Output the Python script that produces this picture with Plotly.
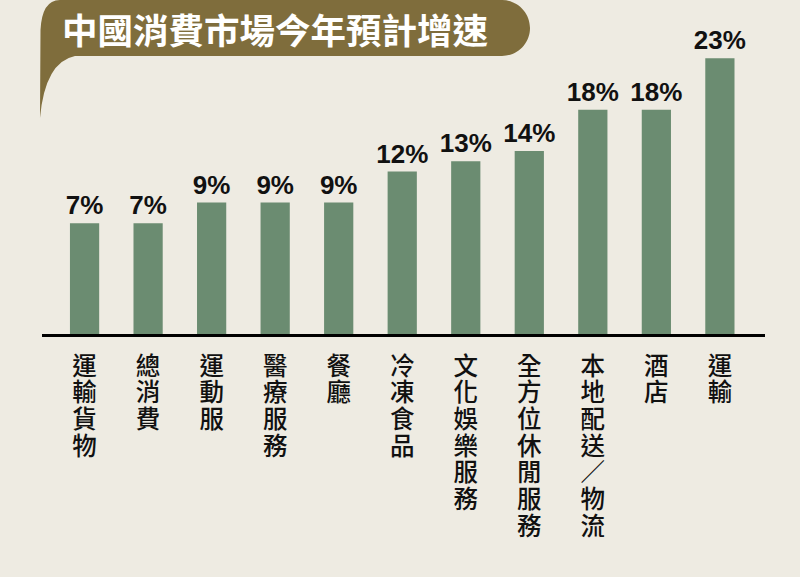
import plotly.graph_objects as go

categories = ["運輸貨物", "總消費", "運動服", "醫療服務", "餐廳", "冷凍食品",
              "文化娛樂服務", "全方位休閒服務", "本地配送／物流", "酒店", "運輸"]
values = [7, 7, 9, 9, 9, 12, 13, 14, 18, 18, 23]
title_text = "中國消費市場今年預計增速"

BASE = -3.75
W, H = 800, 577
ML, MR, MT, MB = 42, 35, 50, 243
PW, PH = W - ML - MR, H - MT - MB

def px(x):
    return (x - ML) / PW

def py(y):
    return (H - MB - y) / PH

BG = "#eeebe2"
BAR = "#6b8c71"
BANNER = "#7f6d3c"

fig = go.Figure()
fig.add_trace(go.Bar(
    x=list(range(len(categories))),
    y=[v - BASE for v in values],
    base=BASE,
    width=0.46,
    marker=dict(color=BAR, line=dict(width=0)),
    text=[f"<b>{v}%</b>" for v in values],
    textposition="outside",
    constraintext="none",
    textfont=dict(family="Liberation Sans", size=26, color="#111111"),
    cliponaxis=False,
    hoverinfo="skip",
))

tick_text = ["<br>".join(f'<span style="font-size:24.5px">{ch}</span>' for ch in c)
             for c in categories]

# banner path (pixel coords converted to paper)
pts = [
    ("M", [(40, 118)]),
    ("L", [(40.5, 30)]),
    ("Q", [(42, 0), (60, 0)]),
    ("L", [(502, 0)]),
    ("C", [(517.5, 0), (530, 12.5), (530, 28)]),
    ("C", [(530, 43.5), (517.5, 56), (502, 56)]),
    ("L", [(75, 56)]),
    ("Q", [(45, 62), (40, 118)]),
]
path = ""
for cmd, ps in pts:
    path += cmd + " " + " ".join(f"{px(a):.5f},{py(b):.5f}" for a, b in ps) + " "
path += "Z"

fig.add_shape(type="path", path=path, xref="paper", yref="paper",
              fillcolor=BANNER, line=dict(width=0), layer="above")

fig.add_annotation(
    x=px(275), y=py(28), xref="paper", yref="paper",
    text=f"<b>{title_text}</b>", showarrow=False,
    font=dict(family="Noto Sans CJK TC", size=35.5, color="white"),
    xanchor="center", yanchor="middle",
)

fig.update_layout(
    width=W, height=H,
    margin=dict(l=ML, r=MR, t=MT, b=MB),
    paper_bgcolor=BG, plot_bgcolor=BG,
    showlegend=False,
    xaxis=dict(
        range=[-0.67, 10.71],
        tickmode="array",
        tickvals=list(range(len(categories))),
        ticktext=tick_text,
        tickfont=dict(family="Noto Sans CJK TC", size=20.5, color="#111111", weight=500),
        ticks="", showgrid=False, zeroline=False,
        showline=True, linecolor="#000000", linewidth=3,
        ticklabelstandoff=13,
        fixedrange=True,
    ),
    yaxis=dict(
        range=[BASE, BASE + PH / 10.31],
        visible=False, showgrid=False, zeroline=False,
        fixedrange=True,
    ),
)

fig.write_html("out.html", config={"displayModeBar": False},
               post_script="document.body.style.margin='0';document.body.style.background='#eeebe2';")
